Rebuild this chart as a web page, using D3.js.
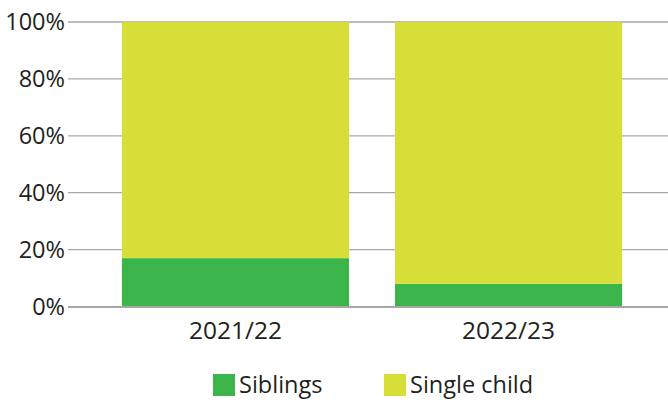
<!DOCTYPE html>
<html>
<head>
<meta charset="utf-8">
<script src="https://cdn.jsdelivr.net/npm/d3@7"></script>
<style>
  html, body { margin: 0; padding: 0; background: #fff; }
  svg { display: block; font-family: "Open Sans", "Noto Sans", sans-serif; }
</style>
</head>
<body>
<svg id="chart" width="668" height="404"></svg>
<script>
// Share of households, stacked to 100%
const years = ["2021/22", "2022/23"];
const siblings = [17, 8];
const singleChild = [83, 92];
const seriesNames = ["Siblings", "Single child"];
const seriesColors = ["#3bb54a", "#d6de37"];
const yTicks = [0, 20, 40, 60, 80, 100];

const svg = d3.select("#chart");
const gridLeft = 68, gridRight = 668;
const plotTop = 22, plotBottom = 306.5;
const fontSize = 23.5;

const x = d3.scaleBand().domain(years).range([99, 645]).paddingInner(0.1685).paddingOuter(0.084);
const y = d3.scaleLinear().domain([0, 100]).range([plotBottom, plotTop]);

const rows = years.map((yr, i) => ({ year: yr, "Siblings": siblings[i], "Single child": singleChild[i] }));
const stack = d3.stack().keys(seriesNames)(rows);
const color = d3.scaleOrdinal().domain(seriesNames).range(seriesColors);

// Gridlines
svg.append("g").selectAll("line").data(yTicks.filter(t => t > 0)).join("line")
  .attr("x1", gridLeft).attr("x2", gridRight)
  .attr("y1", d => y(d)).attr("y2", d => y(d))
  .attr("stroke", "#a7a7a9").attr("stroke-width", 1.3);

// Bars
svg.append("g").selectAll("g").data(stack).join("g")
  .attr("fill", d => color(d.key))
  .selectAll("rect").data(d => d).join("rect")
  .attr("x", d => x(d.data.year))
  .attr("width", x.bandwidth())
  .attr("y", d => y(d[1]))
  .attr("height", d => y(d[0]) - y(d[1]));

// Baseline
svg.append("line")
  .attr("x1", gridLeft).attr("x2", gridRight)
  .attr("y1", y(0) + 0.5).attr("y2", y(0) + 0.5)
  .attr("stroke", "#a7a7a9").attr("stroke-width", 2);

// Y axis labels
svg.append("g").selectAll("text").data(yTicks).join("text")
  .attr("x", 65).attr("y", d => y(d))
  .attr("dy", "0.36em")
  .attr("text-anchor", "end")
  .attr("font-size", fontSize)
  .attr("fill", "#231f20")
  .text(d => d + "%");

// X axis labels
svg.append("g").selectAll("text").data(years).join("text")
  .attr("x", d => x(d) + x.bandwidth() / 2)
  .attr("y", 339)
  .attr("text-anchor", "middle")
  .attr("font-size", 24.5)
  .attr("fill", "#231f20")
  .text(d => d);

// Legend
const legendX = [213, 384];
const legend = svg.append("g").selectAll("g").data(seriesNames).join("g")
  .attr("transform", (d, i) => `translate(${legendX[i]},374)`);
legend.append("rect").attr("width", 22).attr("height", 22).attr("fill", d => color(d));
legend.append("text")
  .attr("x", 26).attr("y", 11).attr("dy", "0.36em")
  .attr("font-size", fontSize).attr("fill", "#231f20")
  .text(d => d);
</script>
</body>
</html>
